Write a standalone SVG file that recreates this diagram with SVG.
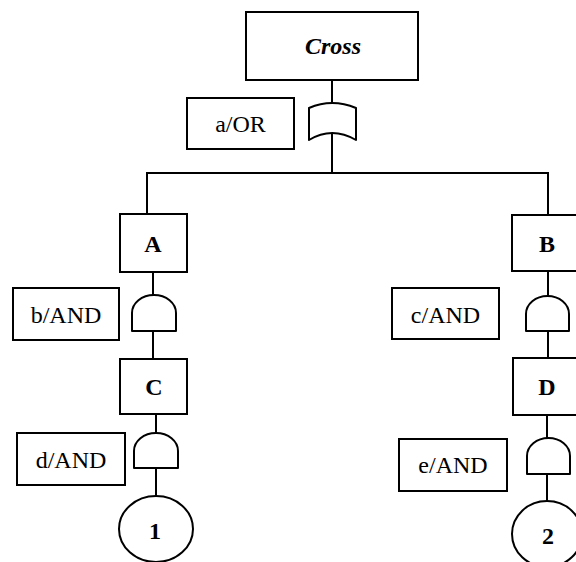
<svg xmlns="http://www.w3.org/2000/svg" width="576" height="562" viewBox="0 0 576 562">
  <style>
    .box { fill: #fff; stroke: #000; stroke-width: 2; }
    .gate { fill: #fff; stroke: #000; stroke-width: 2; stroke-linejoin: round; }
    .wire { fill: none; stroke: #000; stroke-width: 2; }
    .lbl { font-family: "Liberation Serif", "Times New Roman", serif; font-size: 24px; text-anchor: middle; fill: #000; }
    .ev { font-family: "Liberation Serif", "Times New Roman", serif; font-size: 24px; font-weight: bold; text-anchor: middle; fill: #000; }
  </style>
  <rect width="576" height="562" fill="#fff"/>

  <!-- connectors -->
  <g id="connectors">
    <path class="wire" d="M332,80 V104 M332,133 V173"/>
    <path class="wire" d="M147,214 V173 H548 V215"/>
    <path class="wire" d="M153,272 V296 M153,331 V359"/>
    <path class="wire" d="M156,409 V434 M156,468 V496"/>
    <path class="wire" d="M548,271 V297 M548,331 V358"/>
    <path class="wire" d="M547,415 V439 M547,474 V501"/>
  </g>

  <!-- top event -->
  <g id="cross">
    <rect class="box" x="246" y="12" width="172" height="68"/>
    <text class="ev" x="333" y="54" font-style="italic">Cross</text>
  </g>

  <!-- OR gate a -->
  <g id="gate-a">
    <rect class="box" x="187" y="98" width="107" height="51"/>
    <text class="lbl" x="240.5" y="132">a/OR</text>
    <path class="gate" d="M309,108 Q332,98 356,108 V140 Q332,126 309,140 Z"/>
  </g>

  <g id="event-A">
    <rect class="box" x="120" y="214" width="67" height="58"/>
    <text class="ev" x="153" y="252">A</text>
  </g>

  <g id="event-B">
    <rect class="box" x="512" y="215" width="70" height="56"/>
    <text class="ev" x="547" y="252">B</text>
  </g>

  <!-- AND gate b -->
  <g id="gate-b">
    <rect class="box" x="13" y="288" width="106" height="52"/>
    <text class="lbl" x="66" y="323">b/AND</text>
    <path class="gate" d="M132,331 V313 A22,18 0 0 1 176,313 V331 Z"/>
  </g>

  <!-- AND gate c -->
  <g id="gate-c">
    <rect class="box" x="392" y="288" width="107" height="51"/>
    <text class="lbl" x="445.5" y="323">c/AND</text>
    <path class="gate" d="M526,331 V314 A21.5,18 0 0 1 569,314 V331 Z"/>
  </g>

  <g id="event-C">
    <rect class="box" x="120" y="359" width="67" height="55"/>
    <text class="ev" x="154" y="395">C</text>
  </g>

  <g id="event-D">
    <rect class="box" x="513" y="358" width="70" height="57"/>
    <text class="ev" x="547" y="395">D</text>
  </g>

  <!-- AND gate d -->
  <g id="gate-d">
    <rect class="box" x="17" y="433" width="108" height="52"/>
    <text class="lbl" x="71" y="468">d/AND</text>
    <path class="gate" d="M134,468 V451 A22,18 0 0 1 178,451 V468 Z"/>
  </g>

  <!-- AND gate e -->
  <g id="gate-e">
    <rect class="box" x="399" y="439" width="108" height="52"/>
    <text class="lbl" x="453" y="473">e/AND</text>
    <path class="gate" d="M527,474 V456 A21.5,18 0 0 1 570,456 V474 Z"/>
  </g>

  <!-- basic events -->
  <g id="basic-1">
    <ellipse class="box" cx="156" cy="529" rx="37" ry="33"/>
    <text class="ev" x="155" y="539">1</text>
  </g>

  <g id="basic-2">
    <ellipse class="box" cx="547" cy="534" rx="35" ry="33"/>
    <text class="ev" x="548" y="544">2</text>
  </g>
</svg>
